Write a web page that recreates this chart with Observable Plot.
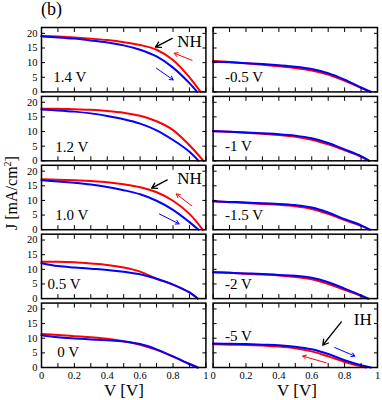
<!DOCTYPE html>
<html><head><meta charset="utf-8">
<script src="https://cdn.jsdelivr.net/npm/d3@7"></script>
<script src="https://cdn.jsdelivr.net/npm/@observablehq/plot@0.6"></script>
<style>
body{margin:0;background:#fff;}
#wrap{position:relative;width:382px;height:400px;font-family:"Liberation Serif","Times New Roman",serif;color:#000;}
#wrap svg{position:absolute;left:0;top:0;}
.lbl{position:absolute;white-space:nowrap;line-height:1;}
</style></head><body>
<div id="wrap"></div>
<script>
// ---- data ----
const V = [0, 0.1, 0.2, 0.3, 0.4, 0.5, 0.6, 0.7, 0.8, 0.9];
const panelLabels = ["1.4 V", "1.2 V", "1.0 V", "0.5 V", "0 V", "-0.5 V", "-1 V", "-1.5 V", "-2 V", "-5 V"];
const panelCol = ["L", "L", "L", "L", "L", "R", "R", "R", "R", "R"];
const panelRow = [0, 1, 2, 3, 4, 0, 1, 2, 3, 4];
const redJ = [
  [19.1, 18.9, 18.6, 18.2, 17.7, 17.0, 16.0, 14.4, 10.9, 5.0],
  [17.8, 17.8, 17.6, 17.4, 17.0, 16.4, 15.4, 13.5, 10.5, 5.3],
  [17.2, 17.1, 16.9, 16.6, 16.2, 15.5, 14.5, 12.8, 9.9, 5.4],
  [12.6, 12.6, 12.4, 12.0, 11.5, 10.6, 9.2, 6.8, 4.8, 2.1],
  [11.4, 11.1, 10.7, 10.3, 9.8, 9.0, 7.8, 6.0, 3.7, 1.2],
  [10.6, 10.2, 9.8, 9.3, 8.8, 8.2, 7.3, 5.9, 3.8, 1.4],
  [10.2, 9.9, 9.6, 9.2, 8.8, 8.2, 7.2, 5.6, 3.6, 1.4],
  [9.7, 9.4, 9.1, 8.8, 8.5, 8.0, 7.1, 5.4, 3.3, 1.3],
  [9.0, 8.8, 8.5, 8.2, 7.9, 7.4, 6.6, 5.0, 3.0, 0.9],
  [7.9, 7.8, 7.7, 7.5, 7.2, 6.6, 5.5, 3.8, 1.9, 0.4]
];
const blueJ = [
  [18.9, 18.6, 18.2, 17.6, 16.9, 15.9, 14.4, 12.1, 8.3, 3.0],
  [17.5, 17.2, 16.8, 16.2, 15.3, 14.2, 12.7, 10.4, 7.1, 3.1],
  [16.9, 16.5, 16.0, 15.4, 14.6, 13.5, 12.1, 9.9, 6.8, 2.6],
  [12.1, 11.1, 10.6, 10.2, 9.8, 9.2, 8.3, 6.8, 4.8, 2.1],
  [11.0, 10.3, 9.9, 9.6, 9.3, 8.9, 8.0, 6.2, 3.8, 1.2],
  [10.3, 10.1, 9.8, 9.5, 9.1, 8.6, 7.8, 6.4, 4.2, 1.5],
  [10.1, 9.9, 9.7, 9.4, 9.1, 8.6, 7.7, 6.1, 3.9, 1.6],
  [9.7, 9.5, 9.3, 9.0, 8.8, 8.4, 7.6, 5.9, 3.6, 1.5],
  [9.0, 8.8, 8.6, 8.4, 8.1, 7.8, 7.1, 5.6, 3.4, 1.1],
  [8.2, 8.1, 8.0, 7.8, 7.6, 7.1, 6.2, 4.6, 2.5, 0.8]
];
const redVoc = [0.968, 0.985, 0.98, 0.95, 0.95, 0.96, 0.95, 0.953, 0.94, 0.93];
const blueVoc = [0.947, 0.955, 0.955, 0.95, 0.95, 0.96, 0.95, 0.953, 0.945, 0.96];
const xTickLabels = [0, 0.2, 0.4, 0.6, 0.8, 1];
const xTicks = [0, 0.1, 0.2, 0.3, 0.4, 0.5, 0.6, 0.7, 0.8, 0.9, 1];
const yTicks = [0, 5, 10, 15, 20];
const notes = [
  {panel: 0, text: "NH", V: 0.90, J: 17.3},
  {panel: 2, text: "NH", V: 0.90, J: 17.4},
  {panel: 9, text: "IH", V: 0.91, J: 16.3}
];
const arrows = [
  {panel: 0, color: "black", V1: 0.795, J1: 18.3, V2: 0.693, J2: 15.3},
  {panel: 0, color: "red", V1: 0.916, J1: 10.8, V2: 0.807, J2: 13.2},
  {panel: 0, color: "blue", V1: 0.699, J1: 8.1, V2: 0.801, J2: 4.1},
  {panel: 2, color: "black", V1: 0.765, J1: 17.0, V2: 0.67, J2: 14.2},
  {panel: 2, color: "red", V1: 0.915, J1: 8.1, V2: 0.82, J2: 12.2},
  {panel: 2, color: "blue", V1: 0.717, J1: 5.4, V2: 0.837, J2: 2.0},
  {panel: 9, color: "black", V1: 0.78, J1: 15.6, V2: 0.667, J2: 7.6},
  {panel: 9, color: "blue", V1: 0.739, J1: 6.85, V2: 0.862, J2: 3.9},
  {panel: 9, color: "red", V1: 0.688, J1: 1.6, V2: 0.545, J2: 3.9}
];

// ---- build tables ----
function curve(p, js, voc, color) {
  const pts = [];
  V.forEach((v, i) => { if (v < voc) pts.push({V: v, J: js[i]}); });
  pts.push({V: voc, J: 0});
  return pts.map(d => ({...d, col: panelCol[p], row: panelRow[p], key: p + color}));
}
const redData = panelLabels.flatMap((_, p) => curve(p, redJ[p], redVoc[p], "red"));
const blueData = panelLabels.flatMap((_, p) => curve(p, blueJ[p], blueVoc[p], "blue"));
const labelData = panelLabels.map((t, p) => ({t, col: panelCol[p], row: panelRow[p], p}));
const noteData = notes.map(d => ({...d, col: panelCol[d.panel], row: panelRow[d.panel]}));
const arrowData = arrows.map(d => ({...d, col: panelCol[d.panel], row: panelRow[d.panel]}));

const labelX = {"0.5 V": 0.036, "0 V": 0.096, "1.2 V": 0.084, "1.0 V": 0.084};
const labelY = {"-5 V": 10.7, "1.2 V": 4.7, "1.0 V": 4.8, "0 V": 5.3};

const arrowMark = (color, sw, hl) => Plot.arrow(arrowData.filter(d => d.color === color), {
  x1: "V1", y1: "J1", x2: "V2", y2: "J2", fx: "col", fy: "row",
  stroke: color, strokeWidth: sw, headLength: hl
});

const chart = Plot.plot({
  width: 382, height: 400,
  marginTop: 27, marginBottom: 33, marginLeft: 41, marginRight: 5,
  style: {fontFamily: "'Liberation Serif', serif", fontSize: "10.5px", color: "#000", background: "#fff"},
  fx: {domain: ["L", "R"], paddingInner: 0.042, paddingOuter: 0, round: false, axis: null},
  fy: {domain: [0, 1, 2, 3, 4], paddingInner: 0.065, paddingOuter: 0, round: false, axis: null},
  x: {domain: [0, 1]},
  y: {domain: [0, 22]},
  marks: [
    Plot.line(redData, {x: "V", y: "J", z: "key", fx: "col", fy: "row", stroke: "#ff0000", strokeWidth: 2, curve: "catmull-rom"}),
    Plot.line(blueData, {x: "V", y: "J", z: "key", fx: "col", fy: "row", stroke: "#0000ff", strokeWidth: 2, curve: "catmull-rom"}),
    arrowMark("black", 1.3, 7),
    arrowMark("red", 1, 6),
    arrowMark("blue", 1, 6),
    Plot.text(labelData, {x: d => labelX[d.t] ?? 0.072, y: d => labelY[d.t] ?? 5, text: "t", fx: "col", fy: "row",
      textAnchor: "start", lineAnchor: "middle", fontSize: 15, fill: "black"}),
    Plot.text(noteData, {x: "V", y: "J", text: "text", fx: "col", fy: "row", fontSize: 17, lineAnchor: "middle", fill: "black"}),
    Plot.axisX({ticks: xTicks, anchor: "bottom", tickSize: -4, text: null, label: null, facetAnchor: null}),
    Plot.axisX({ticks: xTicks, anchor: "top", tickSize: -4, text: null, label: null, facetAnchor: null}),
    Plot.axisY({ticks: yTicks, anchor: "left", tickSize: -4, text: null, label: null, facetAnchor: null}),
    Plot.axisY({ticks: yTicks, anchor: "right", tickSize: -4, text: null, label: null, facetAnchor: null}),
    Plot.axisX({ticks: xTickLabels, anchor: "bottom", tickSize: 0, tickPadding: 4, tickFormat: d => String(d), label: null}),
    Plot.axisY({ticks: yTicks, anchor: "left", tickSize: 0, tickPadding: 4, tickFormat: d => String(d), label: null, facetAnchor: "left"}),
    Plot.frame({stroke: "black", strokeWidth: 1.5})
  ]
});
const wrap = document.getElementById("wrap");
wrap.appendChild(chart);
wrap.insertAdjacentHTML("beforeend", `
<div class="lbl" style="left:41px;top:0px;font-size:18px;">(b)</div>
<div class="lbl" style="left:12px;top:193px;font-size:16px;transform:translate(-50%,-50%) rotate(-90deg);">J [mA/cm<sup style="font-size:10px;vertical-align:6px;line-height:0;">2</sup>]</div>
<div class="lbl" style="left:124px;top:382px;font-size:17px;transform:translateX(-50%);">V [V]</div>
<div class="lbl" style="left:297px;top:382px;font-size:17px;transform:translateX(-50%);">V [V]</div>
`);
</script>
</body></html>
